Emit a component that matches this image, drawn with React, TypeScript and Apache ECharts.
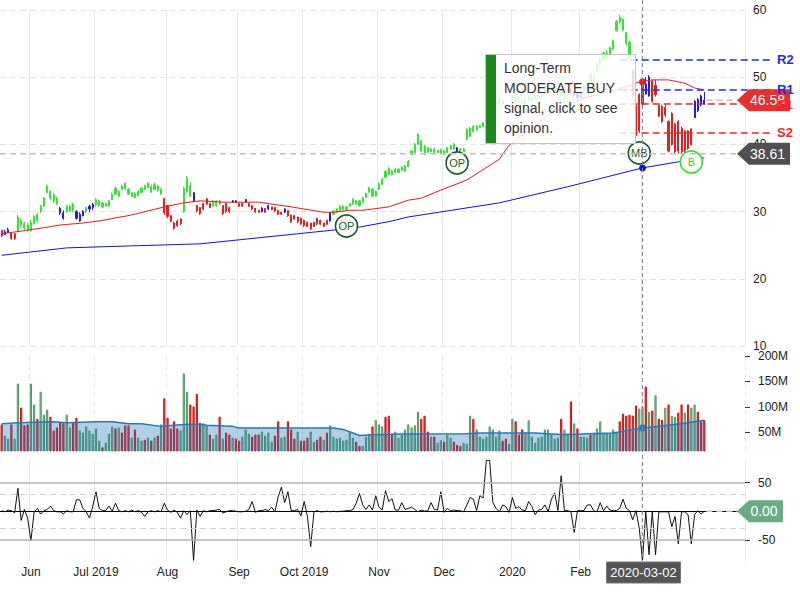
import React, { useEffect, useRef } from 'react';
import * as echarts from 'echarts';

const FONT = 'Arial, "Liberation Sans", Helvetica, sans-serif';

// ---------- calendar ----------
const START_DATE = '2019-05-20';
const TOTAL_SLOTS = 229;
const HOLIDAYS = ['2019-05-27', '2019-07-04', '2019-09-02', '2019-11-28', '2019-12-25', '2020-01-01', '2020-01-20', '2020-02-17', '2020-04-10'];
// month starts (grid lines); the label of March is hidden under the crosshair date tag
const monthLabels: [string, string][] = [
  ['2019-06-03', 'Jun'], ['2019-07-01', 'Jul 2019'], ['2019-08-01', 'Aug'], ['2019-09-03', 'Sep'],
  ['2019-10-01', 'Oct 2019'], ['2019-11-01', 'Nov'], ['2019-12-02', 'Dec'], ['2020-01-02', '2020'],
  ['2020-02-03', 'Feb'], ['2020-03-02', ''],
];
const CROSS_DATE = '2020-03-02';

// ---------- candles [open, close, low, high] ----------
const candlesMay19 = [[27.2,26.4,26.2,27.3],[26.6,27.0,26.5,27.3],[26.9,27.3,26.8,27.6],[26.8,26.0,25.8,26.8],[26.7,26.0,25.8,26.8],[27.0,29.2,27.0,29.5],[28.0,28.6,27.6,29.0],[27.6,28.2,27.3,28.5],[27.2,28.0,27.0,28.3]];
const candlesJun19 = [[27.2,28.4,27.0,28.8],[28.2,29.3,28.0,29.5],[28.6,29.6,28.4,29.8],[30.0,30.8,29.8,31.0],[30.8,32.0,30.7,32.2],[32.8,33.8,32.8,34.0],[32.0,33.0,31.7,33.2],[31.5,32.5,31.3,32.8],[31.2,32.0,31.0,32.2],[30.5,29.8,29.5,30.7],[29.8,29.0,28.8,30.2],[30.0,30.8,29.8,31.0],[30.1,30.8,29.9,31.0],[30.2,31.1,29.9,31.3],[30.0,29.0,28.8,30.2],[29.6,28.6,28.5,29.9],[29.4,30.0,29.3,30.2],[30.0,30.6,29.8,30.7],[30.4,30.8,29.9,31.0],[30.6,31.1,30.2,31.3]];
const candlesJul19 = [[31.0,31.8,30.7,32.0],[30.9,31.6,30.7,31.7],[30.7,31.3,30.5,31.4],[30.8,31.2,30.7,31.3],[30.9,31.6,30.7,31.7],[31.8,32.6,31.7,32.8],[32.6,33.5,32.5,33.7],[32.3,33.0,32.2,33.2],[33.3,33.8,33.2,34.0],[33.4,34.2,33.2,34.4],[32.6,33.3,32.5,33.5],[32.2,32.8,32.2,32.9],[32.1,32.7,32.0,32.9],[32.4,33.0,32.3,33.2],[32.8,33.5,32.8,33.7],[33.3,33.8,33.2,34.0],[33.6,34.2,33.5,34.4],[32.9,33.7,32.8,34.0],[33.3,34.0,33.2,34.3],[33.1,33.8,32.9,34.0],[32.6,33.3,32.5,33.5],[32.0,29.8,29.5,32.0]];
const candlesAug19 = [[30.9,29.3,29.0,31.0],[29.4,28.6,28.4,29.5],[28.3,27.5,27.3,28.5],[28.6,27.9,27.7,28.8],[28.9,28.2,28.0,29.0],[30.0,33.4,29.8,33.7],[33.0,34.9,32.8,35.3],[32.3,33.9,32.2,34.3],[32.8,31.6,31.4,32.9],[30.9,30.1,29.9,31.0],[30.6,29.7,29.5,30.7],[31.2,30.4,30.2,31.3],[31.9,31.1,31.0,32.0],[31.2,30.6,30.5,31.3],[30.8,31.6,30.7,31.7],[30.9,31.6,30.7,31.7],[31.1,31.6,31.0,31.7],[30.9,29.7,29.5,31.0],[31.2,30.0,29.8,31.3],[30.6,30.0,29.8,30.7],[31.4,31.6,31.3,31.7],[31.6,31.4,31.3,31.7]];
const candlesSep19 = [[31.2,30.8,30.7,31.3],[31.2,30.8,30.7,31.3],[31.4,31.8,31.3,31.9],[31.2,30.8,30.7,31.3],[30.9,30.4,30.2,31.0],[30.5,30.0,29.8,30.5],[30.2,29.9,29.8,30.2],[30.0,30.5,29.9,30.7],[30.5,29.9,29.8,30.5],[30.4,30.9,30.2,31.0],[30.7,30.3,30.2,30.7],[30.6,30.1,29.9,30.7],[30.2,29.6,29.5,30.2],[29.9,29.6,29.5,29.9],[29.9,30.4,29.8,30.5],[30.2,29.4,29.2,30.2],[29.5,28.5,28.3,29.5],[29.4,28.9,28.8,29.5],[29.2,28.5,28.3,29.2],[29.0,28.2,28.0,29.1]];
const candlesOct19 = [[28.7,27.9,27.7,28.8],[28.4,27.8,27.7,28.5],[28.3,27.4,27.3,28.3],[28.4,27.8,27.7,28.5],[29.0,28.2,28.0,29.1],[28.7,28.1,28.0,28.8],[28.3,27.8,27.7,28.3],[28.7,28.1,28.0,28.8],[28.6,29.8,28.5,29.9],[29.6,30.1,29.5,30.2],[29.9,30.4,29.8,30.5],[30.1,30.8,29.9,31.0],[30.3,30.8,30.2,31.0],[30.3,30.7,30.2,30.8],[30.8,31.2,30.7,31.3],[31.2,31.9,31.0,32.0],[31.1,31.6,31.0,31.7],[30.9,31.6,30.7,31.7],[31.4,32.0,31.3,32.2],[32.1,32.7,32.0,32.8],[32.9,33.5,32.8,33.7],[32.3,33.3,32.2,33.5],[32.3,33.0,32.2,33.2]];
const candlesNov19 = [[33.3,34.1,33.2,34.3],[34.0,34.8,34.0,35.0],[35.1,36.0,35.0,36.2],[35.6,36.4,35.4,36.6],[35.5,36.0,35.4,36.2],[35.8,36.3,35.7,36.5],[35.8,36.3,35.7,36.5],[36.1,36.6,36.0,36.8],[36.0,36.8,35.9,36.9],[36.7,37.5,36.6,37.7],[38.5,39.0,38.4,39.2],[38.8,40.0,38.7,40.2],[40.0,41.5,39.9,41.7],[39.0,40.5,38.9,40.7],[38.5,39.7,38.4,39.9],[38.8,39.5,38.7,39.6],[38.9,39.3,38.9,39.5],[38.8,39.3,38.7,39.5],[38.8,39.1,38.7,39.2],[38.7,39.2,38.6,39.3]];
const candlesDec19 = [[38.5,39.0,38.4,39.2],[38.8,39.5,38.7,39.6],[39.3,39.8,39.2,39.9],[39.3,40.0,39.2,40.2],[39.5,39.0,38.9,39.6],[38.8,39.3,38.7,39.5],[38.9,39.3,38.9,39.5],[40.8,42.2,40.6,42.4],[41.2,42.4,41.1,42.6],[41.9,42.7,41.8,42.9],[42.1,42.7,42.1,42.9],[42.5,42.8,42.4,42.9],[42.7,43.2,42.6,43.3],[43.3,44.6,43.2,44.8],[44.3,44.9,44.2,45.0],[45.0,45.8,44.9,46.0],[45.8,46.4,45.7,46.5],[46.1,46.6,46.0,46.8],[46.5,46.0,45.8,46.6],[46.0,45.6,45.4,46.2],[45.4,45.9,45.2,46.0]];
const candlesJan20 = [[46.5,47.4,46.4,47.5],[46.4,47.0,46.2,47.2],[46.9,46.2,46.0,47.0],[46.2,46.6,46.0,46.8],[46.5,46.0,45.8,46.6],[46.5,47.2,46.4,47.4],[47.0,46.5,46.2,47.0],[46.7,47.2,46.6,47.4],[47.0,47.5,46.8,47.6],[47.2,47.7,47.0,47.8],[47.7,48.4,47.6,48.6],[48.0,48.6,47.8,48.8],[48.3,48.8,48.0,49.0],[48.6,48.0,47.8,48.8],[48.2,47.6,47.4,48.4],[47.8,47.2,47.0,48.0],[46.8,47.2,46.2,47.4],[47.4,48.2,47.2,48.4],[48.2,47.7,47.4,48.4],[47.8,47.2,47.0,48.0],[47.6,46.9,46.6,47.8]];
const candlesFeb20 = [[47.0,47.8,47.0,48.0],[47.8,48.8,47.6,49.0],[48.4,49.2,48.2,49.4],[49.2,50.4,49.0,50.6],[50.2,49.8,49.4,50.6],[50.9,52.0,50.8,52.2],[51.8,52.8,51.6,53.0],[52.6,53.6,52.4,53.8],[53.6,53.0,52.6,54.0],[53.2,54.4,53.0,54.6],[54.2,55.4,54.0,55.6],[56.9,58.3,56.8,58.5],[58.2,58.9,58.0,59.3],[58.6,57.0,56.8,58.8],[56.6,55.0,54.8,56.8],[55.2,52.8,52.6,55.4],[51.0,47.2,47.0,51.1],[45.8,41.3,41.1,45.9],[42.0,47.4,41.7,47.6]];
const candlesMar20 = [[46.0,49.2,45.6,49.6],[49.0,47.5,47.4,50.0],[47.2,50.0,47.1,50.3],[49.4,46.4,46.2,49.6],[48.8,47.4,47.1,49.6],[45.8,44.2,44.1,45.9],[45.6,43.4,43.2,45.9],[45.5,44.4,44.1,45.9],[43.4,39.0,38.8,43.6],[44.6,40.0,39.8,44.8],[43.0,38.9,38.6,43.2],[43.4,39.0,38.6,43.6],[42.4,38.9,38.6,42.6],[42.0,39.0,38.7,42.1],[42.0,39.4,39.2,42.1],[42.3,40.0,39.8,42.4],[44.0,46.4,43.9,46.6],[45.0,46.7,44.8,46.9],[46.0,47.2,45.6,47.4],[46.0,46.58,45.9,47.8]];

// trend class per candle: g = bullish, r = bearish, b = neutral
const trendMay19 = 'rbbrrgggg';
const trendJun19 = 'gggggggggbbgggbbbgbb';
const trendJul19 = 'gggggggggggggggggggggr';
const trendAug19 = 'rrrrrgggbrrrrrgggrrrbb';
const trendSep19 = 'rrbrrrrbrbrrrrbrrrrr';
const trendOct19 = 'rrrrrrrrbgggggggggggggg';
const trendNov19 = 'gggggggggggggggggggg';
const trendDec19 = 'ggggbgggggggggggggggg';
const trendJan20 = 'ggggggggggggggggggbbb';
const trendFeb20 = 'bgggggggggggggggrrr';
const trendMar20 = 'rbbrrrrrrrrrrrrrbbbb';

// ---------- volume (millions) and up/down class ----------
const volMay19 = [66,44,38,66,38,146,99,64,66];
const volJun19 = [146,105,77,130,85,95,81,54,60,70,68,85,60,70,79,54,50,62,54,48];
const volJul19 = [58,34,21,30,48,62,58,60,50,64,64,40,56,40,34,36,40,34,40,44,66,117];
const volAug19 = [79,58,72,58,54,166,130,105,101,126,69,68,64,46,38,46,81,38,50,46,40,38];
const volSep19 = [34,42,56,48,42,46,46,52,44,50,32,44,72,40,42,72,56,38,52,34];
const volOct19 = [34,40,52,32,36,42,36,50,64,42,38,40,34,36,50,40,32,24,24,42,48,62,75];
const volNov19 = [66,62,81,83,48,52,40,46,56,66,60,64,91,77,83,52,42,42,30,35];
const volDec19 = [32,46,40,32,26,24,30,28,83,77,56,42,38,42,62,56,42,54,34,38,28];
const volJan20 = [77,72,46,56,50,74,42,30,40,42,56,56,46,38,40,77,56,46,111,68,58];
const volFeb20 = [42,42,40,46,50,58,72,48,48,48,56,50,72,87,83,85,83,103,97];
const volMar20 = [101,140,91,93,123,77,75,99,105,83,81,89,105,89,105,99,105,91,72,74];
const volDirMay19 = 'rggrggrrr';
const volDirJun19 = 'ggrgggrrrrrggrrggggg';
const volDirJul19 = 'ggrgggrgrrrgrggrgrgrgr';
const volDirAug19 = 'rrrrgggrrrrggrggrgrrgr';
const volDirSep19 = 'rgggrrrggggrrggrrrgr';
const volDirOct19 = 'rrggrrgrggggggggrrgggrg';
const volDirNov19 = 'ggrrrggggggggrrrgrgg';
const volDirDec19 = 'rggrrrgggrggggggggrrg';
const volDirJan20 = 'grrrgggggggggggrggrgr';
const volDirFeb20 = 'gggrggggggggrrrrrrg';
const volDirMar20 = 'grgrgrrgrggrrgrggrrr';

// ---------- oscillator ----------
const oscMay19 = [1,-1,2,1,-3,40,-16,3,-12];
const oscJun19 = [-52,-1,5,-5,1,3,9,1,-1,-1,-5,1,-1,-1,20,20,5,-1,-12,8];
const oscJul19 = [34,5,1,1,9,0,14,1,-1,1,-1,2,-1,1,-2,-9,-1,1,-1,1,-1,14];
const oscAug19 = [2,-2,2,-2,-12,1,-6,1,-86,2,-9,1,-1,1,1,2,3,-3,-1,1,1,0];
const oscSep19 = [-1,-1,0,3,17,-2,1,1,3,1,7,-1,25,42,15,34,1,1,3,-8];
const oscOct19 = [17,-9,-62,-1,1,-1,-1,0,-1,0,-1,0,0,1,1,3,14,31,11,3,11,2,27];
const oscNov19 = [7,2,36,17,22,2,2,15,3,5,7,3,-1,2,0,1,15,3,2,34];
const oscDec19 = [-2,5,1,2,1,1,-1,11,24,21,1,27,23,89,89,15,5,-1,11,8,-2];
const oscJan20 = [24,5,8,2,1,17,8,-6,2,3,11,-1,21,32,1,62,1,1,-1,-37,1];
const oscFeb20 = [1,1,11,11,1,-1,15,1,9,2,1,1,5,21,5,1,-15,1,-30];
const oscMar20 = [-86,-1,-76,-1,-76,-1,-1,-1,-1,-27,-9,-57,-1,-1,-6,-57,-6,1,-5,0];

// ---------- moving averages read at sample points [index, value] ----------
const ma50Points = [[0,26.7],[6,27.1],[13,27.6],[18,28.0],[25,28.3],[30,28.6],[40,29.5],[50,30.7],[56,31.3],[61,31.6],[68,31.4],[79,31.4],[89,30.7],[99,29.9],[102,29.9],[107,30.2],[111,30.2],[119,30.7],[125,31.7],[129,32.0],[135,33.2],[143,34.7],[153,37.8],[156,39.9],[169,44.7],[179,46.9],[189,48.1],[196,49.3],[200,49.6],[205,49.6],[210,49.1],[213,48.4],[216,48.1]];
const ma200Points = [[0,23.5],[20,24.6],[40,24.9],[61,25.2],[79,26.1],[103,27.3],[110,27.7],[119,28.5],[125,29.2],[153,31.3],[174,33.7],[197,36.5],[208,37.4],[216,38.0]];
const volMaPoints = [[0,67],[5,69],[16,71],[20,69],[29,71],[34,71],[39,67],[43,67],[49,62],[57,66],[61,66],[63,64],[71,62],[73,59],[102,59],[105,56],[108,49],[110,44],[114,45.5],[123,47],[143,47.4],[147,49],[164,49],[172,46],[178,47],[188,49],[194,56],[197,59],[205,64],[211,69],[216,74]];

// ---------- annotations ----------
const signals = [
  { idx: 106, price: 27.86, text: 'OP', color: '#1b5e20' },
  { idx: 140, price: 37.23, text: 'OP', color: '#1b5e20' },
  { idx: 196, price: 38.72, text: 'MB', color: '#1b5e20' },
  { idx: 212, price: 37.38, text: 'B', color: '#2ee02e' },
];
const levels = [
  { name: 'R2', value: 52.56, color: '#1a2cff' },
  { name: 'R1', value: 48.1, color: '#1a2cff' },
  { name: 'S1', value: 46.0, color: '#ff1f1f' },
  { name: 'S2', value: 41.7, color: '#ff1f1f' },
];
const LAST_PRICE = 46.58;
const CROSS_PRICE = 38.61;
const LAST_OSC = 0.0;
const crossMa50 = 49.3;
const crossMa200 = 36.5;
const crossVolMa = 59;
const LEVEL_START_IDX = 190;
const tooltipLines = ['Long-Term', 'MODERATE BUY', 'signal, click to see', 'opinion.'];

const TREND_COLORS: Record<string, string> = { g: '#33e633', r: '#ee1c1c', b: '#1c1cf0' };
const VOL_FILL: Record<string, string> = { g: '#8fcca0', r: '#f04848' };
const VOL_BORDER: Record<string, string> = { g: '#4f9a66', r: '#d01010' };

function buildDates(): string[] {
  const out: string[] = [];
  const d = new Date(START_DATE + 'T12:00:00Z');
  while (out.length < TOTAL_SLOTS) {
    const dow = d.getUTCDay();
    const s = d.toISOString().slice(0, 10);
    if (dow !== 0 && dow !== 6 && !HOLIDAYS.includes(s)) out.push(s);
    d.setUTCDate(d.getUTCDate() + 1);
  }
  return out;
}

export default function App() {
  const ref = useRef<HTMLDivElement>(null);
  useEffect(() => {
    const dates = buildDates();
    const labelMap = new Map<number, string>();
    monthLabels.forEach(([d, l]) => labelMap.set(dates.indexOf(d), l));
    const crossIdx = dates.indexOf(CROSS_DATE);

    const candles = [...candlesMay19, ...candlesJun19, ...candlesJul19, ...candlesAug19, ...candlesSep19, ...candlesOct19, ...candlesNov19, ...candlesDec19, ...candlesJan20, ...candlesFeb20, ...candlesMar20];
    const trend = trendMay19 + trendJun19 + trendJul19 + trendAug19 + trendSep19 + trendOct19 + trendNov19 + trendDec19 + trendJan20 + trendFeb20 + trendMar20;
    const vols = [...volMay19, ...volJun19, ...volJul19, ...volAug19, ...volSep19, ...volOct19, ...volNov19, ...volDec19, ...volJan20, ...volFeb20, ...volMar20];
    const volDir = volDirMay19 + volDirJun19 + volDirJul19 + volDirAug19 + volDirSep19 + volDirOct19 + volDirNov19 + volDirDec19 + volDirJan20 + volDirFeb20 + volDirMar20;
    const osc = [...oscMay19, ...oscJun19, ...oscJul19, ...oscAug19, ...oscSep19, ...oscOct19, ...oscNov19, ...oscDec19, ...oscJan20, ...oscFeb20, ...oscMar20];
    const lastIdx = candles.length - 1;

    const candleData = candles.map((c, i) => {
      const col = TREND_COLORS[trend[i]] || '#33e633';
      return { value: c, itemStyle: { color: col, color0: col, borderColor: col, borderColor0: col, borderWidth: 1 } };
    });
    const volData = vols.map((v, i) => {
      const k = volDir[i] || 'g';
      return { value: v, itemStyle: { color: VOL_FILL[k], borderColor: VOL_BORDER[k], borderWidth: 1 } };
    });

    const mkX = (k: number) => ({
      type: 'category', gridIndex: k, data: dates, boundaryGap: true,
      axisLine: { show: k === 2, lineStyle: { color: '#000', width: 1 } },
      axisTick: { show: false },
      axisLabel: k === 2
        ? { show: true, interval: (i: number) => !!labelMap.get(i), formatter: (_v: string, i: number) => labelMap.get(i) || '', color: '#222', fontSize: 12, margin: 5, fontFamily: FONT }
        : { show: false },
      splitLine: { show: true, interval: (i: number) => labelMap.has(i), lineStyle: { color: '#e8e8e8', width: 1, type: k === 1 ? [5, 4] : 'solid' } },
    });

    const option: any = {
      animation: false,
      backgroundColor: '#ffffff',
      textStyle: { fontFamily: FONT },
      grid: [
        { left: 0, right: 55, top: 10, height: 336 },
        { left: 0, right: 55, top: 356, height: 95 },
        { left: 0, right: 55, top: 460, height: 101 },
      ],
      xAxis: [mkX(0), mkX(1), mkX(2)],
      yAxis: [
        {
          type: 'value', gridIndex: 0, position: 'right', min: 10, max: 60, interval: 10,
          axisLine: { show: false }, axisTick: { show: false },
          axisLabel: { color: '#222', fontSize: 12, margin: 8 },
          splitLine: { show: true, lineStyle: { color: '#e3e3e3', type: [6, 4] } },
        },
        {
          type: 'value', gridIndex: 1, position: 'right', min: 13.7, max: 200,
          axisLine: { show: false },
          axisTick: { show: true, customValues: [50, 100, 150, 200], length: 5, lineStyle: { color: '#333' } },
          axisLabel: { customValues: [50, 100, 150, 200], formatter: (v: number) => v + 'M', color: '#222', fontSize: 12, margin: 13 },
          splitLine: { show: false },
        },
        {
          type: 'value', gridIndex: 2, position: 'right', min: -87, max: 89.5,
          axisLine: { show: false },
          axisTick: { show: true, customValues: [50, -50], length: 5, lineStyle: { color: '#333' } },
          axisLabel: { customValues: [50, -50], color: '#222', fontSize: 12, margin: 13 },
          splitLine: { show: false },
        },
      ],
      series: [
        { type: 'candlestick', xAxisIndex: 0, yAxisIndex: 0, barWidth: 1.6, data: candleData, z: 3 },
        { type: 'line', xAxisIndex: 0, yAxisIndex: 0, data: ma50Points, symbol: 'none', lineStyle: { color: '#f01818', width: 1 }, z: 4 },
        { type: 'line', xAxisIndex: 0, yAxisIndex: 0, data: ma200Points, symbol: 'none', lineStyle: { color: '#1010ee', width: 1 }, z: 4 },
        {
          type: 'scatter', xAxisIndex: 0, yAxisIndex: 0, symbolSize: 7, z: 6,
          data: [
            { value: [crossIdx, crossMa50], itemStyle: { color: '#f01818', opacity: 1 } },
            { value: [crossIdx, crossMa200], itemStyle: { color: '#1010ee', opacity: 1 } },
          ],
        },
        {
          type: 'scatter', xAxisIndex: 0, yAxisIndex: 0, symbol: 'circle', symbolSize: 22, z: 7,
          data: signals.map((s) => ({
            name: s.text, value: [s.idx, s.price],
            itemStyle: { color: '#ffffff', borderColor: s.color, borderWidth: 1.6, opacity: 1 },
            label: { color: s.color },
          })),
          label: { show: true, position: 'inside', formatter: '{b}', fontSize: 11, fontFamily: FONT },
        },
        { type: 'bar', xAxisIndex: 1, yAxisIndex: 1, barWidth: 2.2, data: volData, z: 2 },
        {
          type: 'line', xAxisIndex: 1, yAxisIndex: 1, data: volMaPoints, symbol: 'none', z: 3,
          lineStyle: { color: '#2a78b8', width: 1.5 }, areaStyle: { color: 'rgba(31,119,180,0.5)' },
        },
        { type: 'scatter', xAxisIndex: 1, yAxisIndex: 1, symbolSize: 7, z: 5, itemStyle: { color: '#2a78b8', opacity: 1 }, data: [[crossIdx, crossVolMa]] },
        {
          type: 'line', xAxisIndex: 2, yAxisIndex: 2, data: osc, symbol: 'none', z: 3,
          lineStyle: { color: '#111', width: 1 },
          markLine: {
            silent: true, symbol: ['none', 'none'], label: { show: false },
            data: [
              { yAxis: 50, lineStyle: { type: 'solid', color: '#b5b5b5', width: 1.5 } },
              { yAxis: -50, lineStyle: { type: 'solid', color: '#b5b5b5', width: 1.5 } },
              { yAxis: 30, lineStyle: { type: [6, 4], color: '#cfcfcf', width: 1 } },
              { yAxis: -30, lineStyle: { type: [6, 4], color: '#cfcfcf', width: 1 } },
            ],
          },
        },
      ],
    };

    const chart = echarts.init(ref.current!, null, { renderer: 'svg', width: 800, height: 600 });
    chart.setOption(option);

    const p0 = (i: number, v: number) => chart.convertToPixel({ xAxisIndex: 0, yAxisIndex: 0 }, [i, v]) as number[];
    const p2 = (i: number, v: number) => chart.convertToPixel({ xAxisIndex: 2, yAxisIndex: 2 }, [i, v]) as number[];
    const crossX = p0(crossIdx, 40)[0];
    const bottomY = p2(crossIdx, -87)[1];
    const lastX = p0(lastIdx, 40)[0] + 2;
    const yLast = p0(lastIdx, LAST_PRICE)[1];
    const yCross = p0(0, CROSS_PRICE)[1];
    const yOsc = p2(lastIdx, LAST_OSC)[1];
    const levelStartX = p0(LEVEL_START_IDX, 40)[0];
    const TIP = 737;
    const BOX_R = 790;

    const arrowBox = (y: number, fill: string, text: string, right: number) => ([
      { type: 'polygon', z: 100, shape: { points: [[TIP, y], [TIP + 12, y - 11], [right, y - 11], [right, y + 11], [TIP + 12, y + 11]] }, style: { fill } },
      { type: 'text', z: 101, x: (TIP + 8 + right) / 2, y, style: { text, fill: '#fff', fontSize: 14, fontFamily: FONT, align: 'center', verticalAlign: 'middle' } },
    ]);

    const graphics: any[] = [
      { type: 'line', z: 90, silent: true, shape: { x1: crossX, y1: 0, x2: crossX, y2: bottomY }, style: { stroke: '#8a8a8a', lineWidth: 1, lineDash: [4, 3] } },
      { type: 'line', z: 90, silent: true, shape: { x1: 0, y1: yCross, x2: TIP, y2: yCross }, style: { stroke: '#c2c2c2', lineWidth: 1.5, lineDash: [6, 4] } },
      { type: 'line', z: 90, silent: true, shape: { x1: lastX, y1: yLast, x2: TIP, y2: yLast }, style: { stroke: '#c2c2c2', lineWidth: 1.5, lineDash: [6, 4] } },
      { type: 'line', z: 90, silent: true, shape: { x1: lastX, y1: yOsc, x2: TIP, y2: yOsc }, style: { stroke: '#c2c2c2', lineWidth: 1.5, lineDash: [6, 4] } },
    ];
    levels.forEach((l) => {
      const y = p0(0, l.value)[1];
      graphics.push({ type: 'line', z: 95, silent: true, shape: { x1: levelStartX, y1: y, x2: 772, y2: y }, style: { stroke: l.color, lineWidth: 1.5, lineDash: [7, 4] } });
    });
    graphics.push(...arrowBox(yLast, '#e53030', LAST_PRICE.toFixed(2), BOX_R));
    graphics.push(...arrowBox(yCross, '#505050', CROSS_PRICE.toFixed(2), BOX_R));
    graphics.push(...arrowBox(yOsc, '#6aaa84', LAST_OSC.toFixed(2), 783));
    levels.forEach((l) => {
      const y = p0(0, l.value)[1];
      graphics.push({ type: 'text', z: 110, x: 777, y, style: { text: l.name, fill: l.color, fontSize: 13, fontWeight: 'bold', fontFamily: FONT, align: 'left', verticalAlign: 'middle' } });
    });
    graphics.push({ type: 'rect', z: 100, shape: { x: crossX - 36, y: bottomY + 1, width: 74, height: 21 }, style: { fill: '#555555', stroke: '#777', lineWidth: 1 } });
    graphics.push({ type: 'text', z: 101, x: crossX + 1, y: bottomY + 11.5, style: { text: CROSS_DATE, fill: '#fff', fontSize: 13, fontFamily: FONT, align: 'center', verticalAlign: 'middle' } });
    graphics.push({ type: 'rect', z: 120, shape: { x: 485.5, y: 54.5, width: 150, height: 89 }, style: { fill: 'rgba(255,255,255,0.82)', stroke: '#c4c4c4', lineWidth: 1 } });
    graphics.push({ type: 'rect', z: 121, shape: { x: 486, y: 55, width: 10, height: 88 }, style: { fill: '#1e8a1e' } });
    tooltipLines.forEach((t, k) => {
      graphics.push({ type: 'text', z: 122, x: 504, y: 68 + k * 20, style: { text: t, fill: '#333', fontSize: 14, fontFamily: FONT, align: 'left', verticalAlign: 'middle' } });
    });

    chart.setOption({ graphic: graphics });
    return () => chart.dispose();
  }, []);

  return <div ref={ref} style={{ position: 'fixed', left: 0, top: 0, width: 800, height: 600, background: '#fff' }} />;
}
